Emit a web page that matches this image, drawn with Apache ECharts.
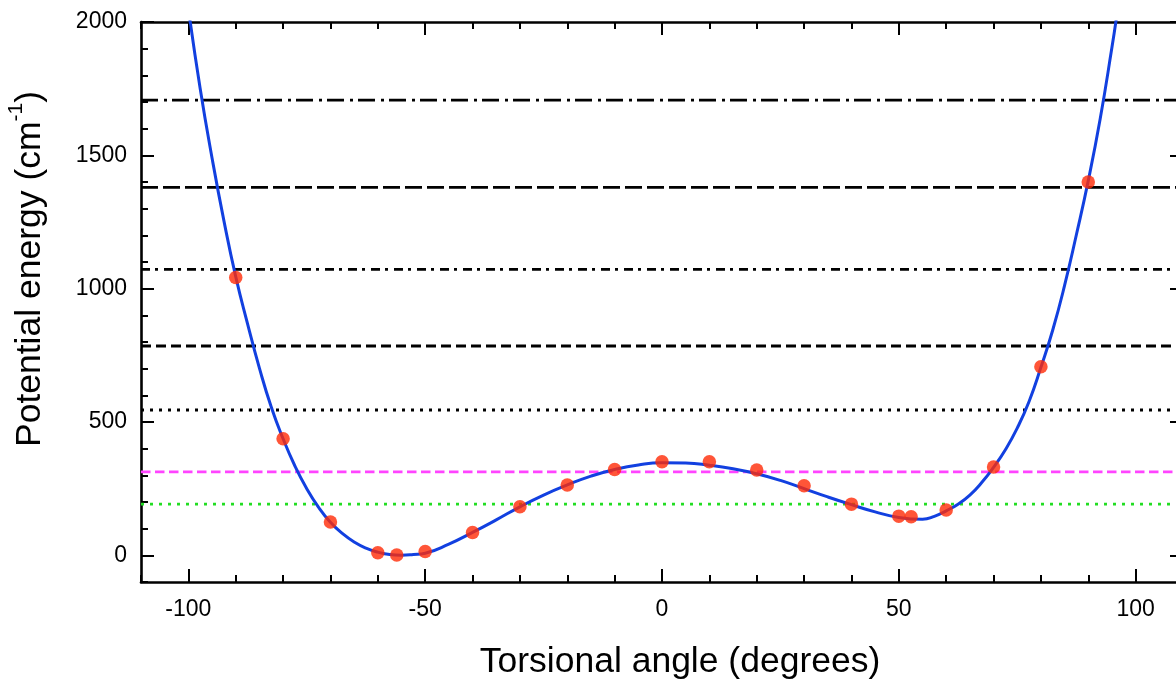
<!DOCTYPE html>
<html><head><meta charset="utf-8">
<script src="https://cdn.jsdelivr.net/npm/echarts@6/dist/echarts.min.js"></script>
<style>html,body{margin:0;padding:0;overflow:hidden;background:#fff}#c{width:1184px;height:679px}</style>
</head><body><div id="c"></div>
<script>
// ---- data ----
const pointAngles   = [-90, -80, -70, -60, -56, -50, -40, -30, -20, -10, 0, 10, 20, 30, 40, 50, 52.6, 60, 70, 80, 90];
const pointEnergies = [1042, 437, 125, 10, 1, 14, 86, 182, 264, 322, 351, 351, 320, 261, 192, 147, 145, 170, 331, 707, 1400];

const curveAngles   = [-100, -97.5, -95, -92.5, -90, -87.5, -85, -82.5, -80, -77.5, -75, -72.5, -70, -67.5, -65, -62.5, -60, -57.5, -55, -52.5, -50, -45, -40, -35, -30, -25, -20, -15, -10, -5, 0, 5, 10, 15, 20, 25, 30, 35, 40, 45, 50, 55, 57.5, 60, 62.5, 65, 67.5, 70, 72.5, 75, 77.5, 80, 82.5, 85, 87.5, 90, 92.5, 95, 96];
const curveEnergies = [2050, 1750, 1490, 1255, 1045, 868, 702, 556, 437, 335, 250, 180, 124, 82, 50, 27, 12, 3, 0.5, 3, 8, 42, 86, 133, 182, 226, 264, 297, 322, 339, 347, 346, 338, 325, 306, 281, 250, 219, 190, 163, 142, 135, 146, 167, 192, 226, 273, 330, 396, 477, 577, 705, 845, 1012, 1203, 1405, 1635, 1905, 2022];

const levelValues = [192, 313, 545, 785, 1072, 1380, 1707];
const levelColors = ['#22dd22', '#ff44ff', '#000000', '#000000', '#000000', '#000000', '#000000'];
const levelDashes = [[3, 6], [9.5, 4.5], [3, 6], [10, 5], [9, 5, 3, 6], [17, 5], [17, 6, 3, 5]];

const xRange = [-110, 110];
const yRange = [-100, 2000];
const xMajorTicks = [-100, -50, 0, 50, 100];
const xMinorTicks = [-110, -100, -90, -80, -70, -60, -50, -40, -30, -20, -10, 0, 10, 20, 30, 40, 50, 60, 70, 80, 90, 100, 110];
const yMajorTicks = [0, 500, 1000, 1500, 2000];
const yMinorTicks = [-100, 0, 100, 200, 300, 400, 500, 600, 700, 800, 900, 1000, 1100, 1200, 1300, 1400, 1500, 1600, 1700, 1800, 1900, 2000];
const xLabels = [-100, -50, 0, 50, 100];
const yLabels = [0, 500, 1000, 1500, 2000];

// ---- chart ----
const FONT = 'Liberation Sans, Arial, Helvetica, sans-serif';
const lineW = 2.6;

function axis(kind, pos, ticks, len, main) {
  const range = kind === 'x' ? xRange : yRange;
  return {
    type: 'value', position: pos, min: range[0], max: range[1],
    splitLine: { show: false },
    axisLine: { show: main, onZero: false, lineStyle: { color: '#000', width: lineW } },
    axisTick: { show: true, inside: true, length: len, customValues: ticks, lineStyle: { color: '#000', width: 2 } },
    axisLabel: { show: false }
  };
}
const plain = v => String(v);

const xAxes = [
  axis('x', 'bottom', xMajorTicks, 13, true),
  axis('x', 'bottom', xMinorTicks, 7, false),
  axis('x', 'top', xMajorTicks, 13, true),
  axis('x', 'top', xMinorTicks, 7, false)
];
xAxes[0].axisLabel = { show: true, customValues: xLabels, formatter: plain, fontFamily: FONT, fontSize: 23, color: '#000', margin: 16 };
xAxes[0].name = 'Torsional angle (degrees)';
xAxes[0].nameLocation = 'middle';
xAxes[0].nameGap = 62;
xAxes[0].nameTextStyle = { fontFamily: FONT, fontSize: 35.5, color: '#000', padding: [0, 0, 0, 36] };

const yAxes = [
  axis('y', 'left', yMajorTicks, 13, true),
  axis('y', 'left', yMinorTicks, 7, false),
  axis('y', 'right', yMajorTicks, 13, true),
  axis('y', 'right', yMinorTicks, 7, false)
];
yAxes[0].axisLabel = { show: true, customValues: yLabels, formatter: plain, fontFamily: FONT, fontSize: 23, color: '#000', margin: 14 };
yAxes[0].name = '{a|Potential energy (cm}{s|-1}{a|)}';
yAxes[0].nameLocation = 'middle';
yAxes[0].nameRotate = 90;
yAxes[0].nameGap = 93;
yAxes[0].nameTextStyle = {
  fontFamily: FONT, fontSize: 35.5, color: '#000', padding: [0, 0, 0, 66],
  rich: {
    a: { fontFamily: FONT, fontSize: 35.5, color: '#000', lineHeight: 42, verticalAlign: 'bottom' },
    s: { fontFamily: FONT, fontSize: 21, color: '#000', lineHeight: 42, verticalAlign: 'top' }
  }
};

const series = [];
levelValues.forEach((v, i) => {
  series.push({
    type: 'line', xAxisIndex: 0, yAxisIndex: 0, symbol: 'none', silent: true, z: 2,
    data: [[xRange[0], v], [xRange[1], v]],
    lineStyle: { color: levelColors[i], width: 2.8, type: levelDashes[i], cap: 'butt' }
  });
});
series.push({
  type: 'line', xAxisIndex: 0, yAxisIndex: 0, symbol: 'none', smooth: 0.5, z: 3, clip: true,
  data: curveAngles.map((a, i) => [a, curveEnergies[i]]),
  lineStyle: { color: '#1240e0', width: 3 }
});
series.push({
  type: 'scatter', xAxisIndex: 0, yAxisIndex: 0, symbol: 'circle', symbolSize: 13.5, z: 4,
  data: pointAngles.map((a, i) => [a, pointEnergies[i]]),
  itemStyle: { color: '#ff2a06' }
});

const chart = echarts.init(document.getElementById('c'), null, { renderer: 'canvas' });
chart.setOption({
  animation: false,
  backgroundColor: '#fff',
  grid: { left: 141, right: 1, top: 22, bottom: 97, containLabel: false, outerBoundsMode: 'none' },
  xAxis: xAxes,
  yAxis: yAxes,
  series: series
});
</script></body></html>
